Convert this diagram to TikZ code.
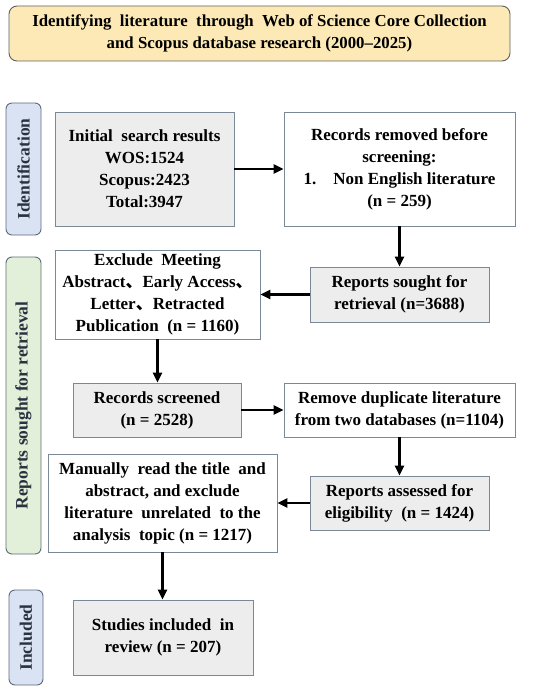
\documentclass[tikz,border=0pt]{standalone}
\usepackage{fontspec}
\setmainfont{Liberation Serif}
\newfontfamily\cjk{Noto Sans CJK SC}
\usetikzlibrary{arrows.meta}
\definecolor{boxgray}{HTML}{EDEDED}
\definecolor{boxline}{HTML}{7A8898}
\definecolor{titlefill}{HTML}{FDE9B6}
\definecolor{titleline}{HTML}{5F5F5F}
\definecolor{sideblue}{HTML}{DAE3F3}
\definecolor{sidegreen}{HTML}{E2F0D9}
\definecolor{sideline}{HTML}{5E6B7A}
\definecolor{sidetext}{HTML}{2A3240}
\newcommand{\cc}{{\cjk 、}}
\tikzset{
  base/.style={draw=boxline, line width=0.9pt, align=center, inner sep=2pt,
    font=\fontsize{17}{22}\selectfont\bfseries, text=black},
  graybox/.style={base, fill=boxgray},
  whitebox/.style={base, fill=white},
  sidebox/.style={draw=sideline, line width=0.9pt, rounded corners=6pt, rotate=90,
    font=\fontsize{17.5}{20}\selectfont\bfseries, text=sidetext, inner sep=0pt},
  arr/.style={line width=2.6pt, -{Triangle[length=10pt,width=9pt]}},
}
\begin{document}
\begin{tikzpicture}[x=1pt,y=-1pt]
\useasboundingbox (0,0) rectangle (550,693);
\node[draw=titleline, line width=0.9pt, fill=titlefill, rounded corners=8pt,
  minimum width=501pt, minimum height=55pt, align=center,
  font=\fontsize{16.8}{22}\selectfont\bfseries] (title) at (259.5,33.5)
  {Identifying\ \ literature\ \ through\ \ Web of Science Core Collection\\and Scopus database research (2000--2025)};

\node[sidebox, fill=sideblue, minimum width=132pt, minimum height=35pt] (sideA) at (23.5,169) {Identification};
\node[sidebox, fill=sidegreen, minimum width=297pt, minimum height=35pt] (sideB) at (23.5,405.5) {Reports sought for retrieval};
\node[sidebox, fill=sideblue, minimum width=95pt, minimum height=34pt] (sideC) at (26,637.5) {Included};

\node[graybox, minimum width=179pt, minimum height=114pt] (initial) at (144.5,169)
  {Initial\ \ search results\\WOS:1524\\Scopus:2423\\Total:3947};
\node[whitebox, minimum width=231pt, minimum height=114pt] (removed) at (399.5,169)
  {Records removed before\\screening:\\1.\quad Non English literature\\(n = 259)};
\node[graybox, minimum width=179pt, minimum height=55pt] (sought) at (399.5,294.5)
  {Reports sought for\\retrieval (n=3688)};
\node[whitebox, minimum width=205pt, minimum height=89pt] (exclude) at (157.5,294.5)
  {Exclude\ \ Meeting\\Abstract\cc Early Access\cc\\Letter\cc Retracted\\Publication\ \ (n = 1160)};
\node[graybox, minimum width=168pt, minimum height=54pt] (screened) at (157,410)
  {Records screened\\(n = 2528)};
\node[whitebox, minimum width=231pt, minimum height=54pt] (dup) at (399.5,410)
  {Remove duplicate literature\\from two databases (n=1104)};
\node[graybox, minimum width=179pt, minimum height=54pt] (assessed) at (399.5,503)
  {Reports assessed for\\eligibility\ \ (n = 1424)};
\node[whitebox, minimum width=229pt, minimum height=98pt] (manual) at (162.5,503)
  {Manually\ \ read the title\ \ and\\abstract, and exclude\\literature\ \ unrelated\ \ to the\\analysis\ \ topic (n = 1217)};
\node[graybox, minimum width=180pt, minimum height=75pt] (studies) at (163,637.5)
  {Studies included\ \ in\\review (n = 207)};

\draw[arr] (initial.east) -- (removed.west);
\draw[arr] (removed.south) -- (sought.north);
\draw[arr] (sought.west) -- (exclude.east);
\draw[arr] (exclude.south) -- (exclude.south |- screened.north);
\draw[arr] (screened.east) -- (dup.west);
\draw[arr] (dup.south) -- (assessed.north);
\draw[arr] (assessed.west) -- (manual.east);
\draw[arr] (manual.south) -- (manual.south |- studies.north);
\end{tikzpicture}
\end{document}
